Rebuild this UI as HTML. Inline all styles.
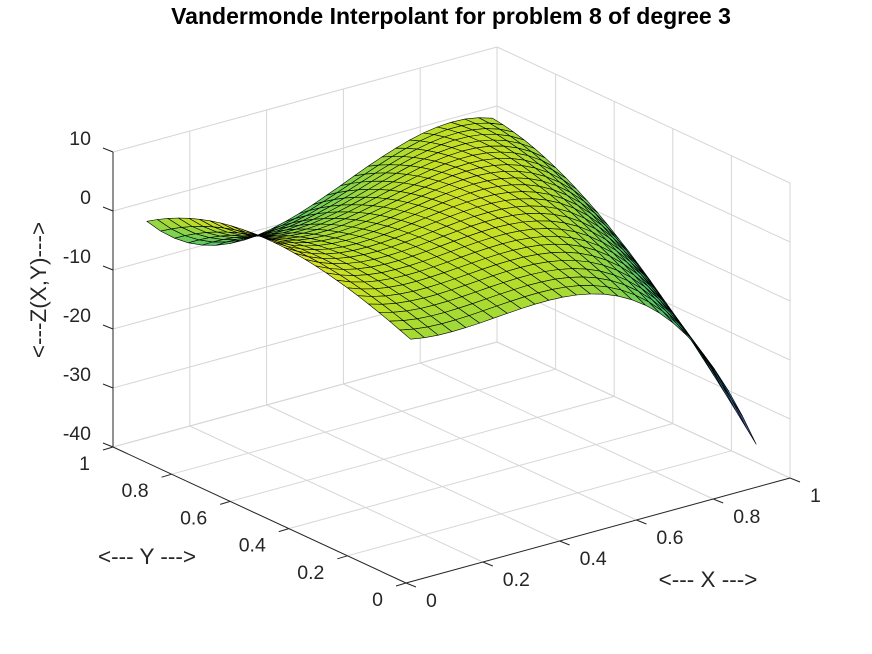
<!DOCTYPE html>
<html><head><meta charset="utf-8"><style>
body{margin:0;background:#fff}
svg{display:block;font-family:"Liberation Sans",sans-serif}
</style></head><body>
<svg id="s" width="872" height="654" viewBox="0 0 872 654" xmlns="http://www.w3.org/2000/svg">
<rect width="872" height="654" fill="#fff"/>
<text x="451" y="24" font-size="23" font-weight="bold" text-anchor="middle" fill="#000">Vandermonde Interpolant for problem 8 of degree 3</text>
<g id="grid" stroke="#d6d6d6" stroke-width="1" fill="none"></g>
<g id="axes" stroke="#262626" stroke-width="1" fill="none"></g>
<g id="surf" stroke="#000" stroke-width="0.6" stroke-linejoin="round"></g>
<g id="labels" font-size="19.5" fill="#262626"></g>
<text x="708" y="587" font-size="22.5" text-anchor="middle" fill="#262626">&lt;--- X ---&gt;</text>
<text x="147" y="564" font-size="22.5" text-anchor="middle" fill="#262626">&lt;--- Y ---&gt;</text>
<text transform="translate(46,290) rotate(-90)" font-size="22.5" text-anchor="middle" fill="#262626">&lt;---Z(X,Y)---&gt;</text>
</svg>
<script>
function P(X,Y,Z){var v=1-Y;return [113+384*X+293*v, 447-105*X+136*v-5.9*(Z+40)];}
var NS="http://www.w3.org/2000/svg";
function line(g,a,b){var l=document.createElementNS(NS,"line");l.setAttribute("x1",a[0].toFixed(1));l.setAttribute("y1",a[1].toFixed(1));l.setAttribute("x2",b[0].toFixed(1));l.setAttribute("y2",b[1].toFixed(1));g.appendChild(l);}
var G=document.getElementById("grid"),A=document.getElementById("axes"),L=document.getElementById("labels");
var xt=[0,.2,.4,.6,.8,1],zt=[-40,-30,-20,-10,0,10];
xt.forEach(function(x){line(G,P(x,1,-40),P(x,1,10));line(G,P(x,0,-40),P(x,1,-40));});
zt.forEach(function(z){line(G,P(0,1,z),P(1,1,z));line(G,P(1,1,z),P(1,0,z));});
xt.forEach(function(y){line(G,P(1,y,-40),P(1,y,10));line(G,P(0,y,-40),P(1,y,-40));});
line(A,P(0,1,-40),P(0,1,10));line(A,P(0,1,-40),P(0,0,-40));line(A,P(0,0,-40),P(1,0,-40));
function txt(x,y,s,anc){var t=document.createElementNS(NS,"text");t.setAttribute("x",x);t.setAttribute("y",y);t.setAttribute("text-anchor",anc);t.textContent=s;L.appendChild(t);}
zt.forEach(function(z){var p=P(0,1,z);line(A,p,[p[0]-10,p[1]-4]);txt(91,p[1]-7,String(z),"end");});
xt.forEach(function(y){var p=P(0,y,-40);line(A,p,[p[0]-10,p[1]+3]);txt(p[0]-23,p[1]+23,String(y),"end");});
xt.forEach(function(x){var p=P(x,0,-40);line(A,p,[p[0]+10,p[1]+4]);txt(p[0]+20,p[1]+24,String(x),"start");});
var data=[[.05,.95,-1.6],[.19,.95,-7.8],[.34,.95,-9.0],[.691,.95,-0.85],[.95,.95,0],
[.05,.87,0.9],[.05,.57,4.9],[.05,.05,-0.7],
[.458,.05,-0.7],[.595,.05,-3.4],[.785,.05,-13.9],[.95,.05,-34.7],
[.95,.754,-2.9],[.95,.549,-9.4],[.95,.266,-22.3]];
var E=[[0,0],[1,0],[0,1],[2,0],[1,1],[0,2],[3,0],[2,1],[1,2],[0,3]];
function basis(x,y){return E.map(function(e){return Math.pow(x,e[0])*Math.pow(y,e[1]);});}
var n=E.length,M=[],b=[];
for(var i=0;i<n;i++){M[i]=[];for(var j=0;j<n;j++)M[i][j]=(i==j?1e-6:0);b[i]=0;}
data.forEach(function(d){var f=basis(d[0],d[1]);for(var i=0;i<n;i++){b[i]+=f[i]*d[2];for(var j=0;j<n;j++)M[i][j]+=f[i]*f[j];}});
for(var c=0;c<n;c++){var p=c;for(var r=c+1;r<n;r++)if(Math.abs(M[r][c])>Math.abs(M[p][c]))p=r;
 var tmp=M[c];M[c]=M[p];M[p]=tmp;tmp=b[c];b[c]=b[p];b[p]=tmp;
 for(var r=c+1;r<n;r++){var k=M[r][c]/M[c][c];for(var j=c;j<n;j++)M[r][j]-=k*M[c][j];b[r]-=k*b[c];}}
var coef=new Array(n);
for(var i=n-1;i>=0;i--){var s=b[i];for(var j=i+1;j<n;j++)s-=M[i][j]*coef[j];coef[i]=s/M[i][i];}
function Z(x,y){var f=basis(x,y),s=0;for(var i=0;i<n;i++)s+=f[i]*coef[i];return s;}
var N=25,zz=[],zmin=1e9,zmax=-1e9;
function XY(i,j){return [.05+.9*i/N, .95-.9*j/N];}
for(var i=0;i<=N;i++){zz[i]=[];for(var j=0;j<=N;j++){var xy=XY(i,j);var v=Z(xy[0],xy[1]);zz[i][j]=v;zmin=Math.min(zmin,v);zmax=Math.max(zmax,v);}}
var vir=["#440154","#482475","#414487","#355f8d","#2a788e","#21918c","#22a884","#44bf70","#7ad151","#bddf26","#fde725"];
function hx(h){return [parseInt(h.substr(1,2),16),parseInt(h.substr(3,2),16),parseInt(h.substr(5,2),16)];}
function cmap(f){f=Math.max(0,Math.min(1,f))*10;var k=Math.min(9,Math.floor(f)),r=f-k,a=hx(vir[k]),b=hx(vir[k+1]);return "rgb("+[0,1,2].map(function(q){return Math.round(a[q]+(b[q]-a[q])*r);}).join(",")+")";}
var faces=[];
for(var i=0;i<N;i++)for(var j=0;j<N;j++){
 var q=[[i,j],[i+1,j],[i+1,j+1],[i,j+1]],pts=[],za=0;
 q.forEach(function(c){var xy=XY(c[0],c[1]);var z=zz[c[0]][c[1]];za+=z/4;pts.push(P(xy[0],xy[1],z));});
 faces.push({d:(i+.5)/N+(1-(j+.5)/N),pts:pts,z:za});
}
faces.sort(function(a,b){return b.d-a.d;});
var S=document.getElementById("surf");
faces.forEach(function(f){var p=document.createElementNS(NS,"polygon");p.setAttribute("points",f.pts.map(function(a){return a[0].toFixed(1)+","+a[1].toFixed(1);}).join(" "));p.setAttribute("fill",cmap(0.08+0.88*Math.pow((f.z-zmin)/(zmax-zmin),0.75)));S.appendChild(p);});
</script>
</body></html>
